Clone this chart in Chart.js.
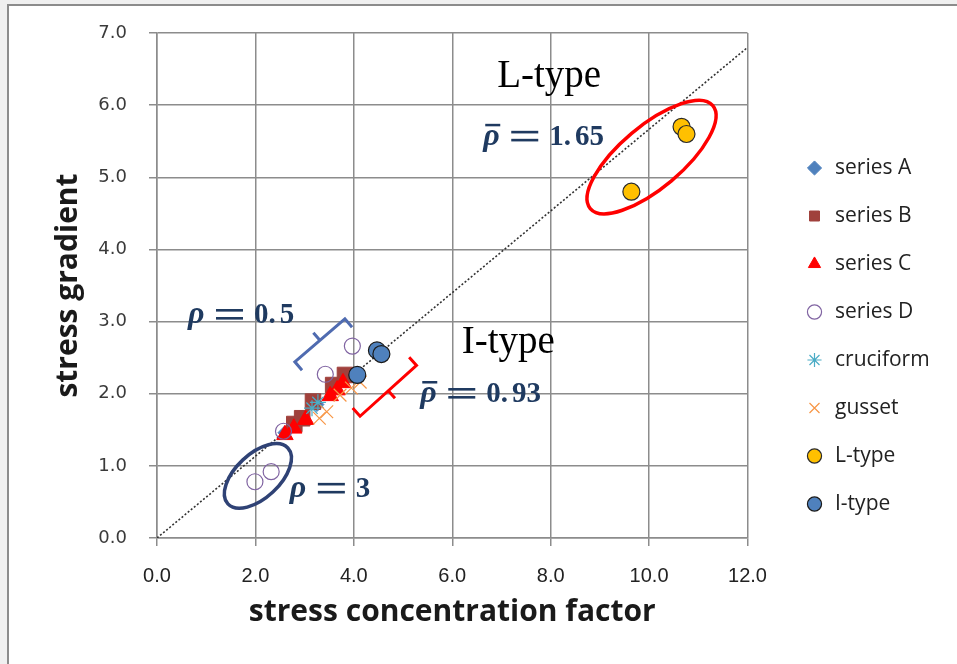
<!DOCTYPE html>
<html>
<head>
<meta charset="utf-8">
<script src="https://cdn.jsdelivr.net/npm/chart.js@4"></script>
<style>
  html, body { margin: 0; padding: 0; background: #f0f0f0; overflow: hidden; }
  #frame { position: absolute; left: 7px; top: 4px; right: 0; bottom: 0; background: #fff;
           border-top: 2px solid #8c8c8c; border-left: 2px solid #8c8c8c; }
  #wrap { position: absolute; left: 0; top: 0; width: 957px; height: 664px; }
</style>
</head>
<body>
<div id="frame"></div>
<div id="wrap"><canvas id="chart"></canvas></div>
<script>
// [stress concentration factor, stress gradient]
const seriesA = [[2.6, 1.46], [2.85, 1.6], [3.25, 1.85]];
const seriesB = [[2.79, 1.58], [2.95, 1.66], [3.17, 1.89], [3.58, 2.12], [3.82, 2.26]];
const seriesC = [[2.6, 1.43], [2.78, 1.52], [3.02, 1.64], [3.52, 1.97], [3.66, 2.05], [3.78, 2.15]];
const seriesD = [[1.99, 0.78], [2.32, 0.92], [2.57, 1.48], [3.42, 2.27], [3.97, 2.66]];
const cruciform = [[3.15, 1.8], [3.27, 1.88]];
const gusset = [[3.3, 1.66], [3.45, 1.75], [3.72, 1.98], [3.95, 2.08], [4.13, 2.16]];
const lType = [[9.64, 4.80], [10.66, 5.70], [10.76, 5.60]];
const iType = [[4.47, 2.60], [4.56, 2.55], [4.07, 2.26]];
const refLine = [[0, 0], [12, 6.8]];

const seriesNames = ['series A', 'series B', 'series C', 'series D', 'cruciform', 'gusset', 'L-type', 'I-type'];

// annotations, anchored in data units
const typeLabels = [
    { text: 'L-type', x: 7.97, y: 6.25 },
    { text: 'I-type', x: 7.14, y: 2.56 }
];
const rhoNotes = [
    { bar: true, whole: '1', frac: '65', x: 6.63, y: 5.45 },
    { bar: false, whole: '0', frac: '5', x: 0.63, y: 2.98 },
    { bar: true, whole: '0', frac: '93', x: 5.35, y: 1.885 },
    { bar: false, whole: '3', frac: null, x: 2.70, y: 0.57 }
];
const ellipses = [
    { x: 10.05, y: 5.28, rx: 80, ry: 31, angle: -40, color: '#ff0000' },
    { x: 2.05, y: 0.86, rx: 41, ry: 22, angle: -43, color: '#2f4275' }
];
const brackets = [
    { x: 3.31, y: 2.74, half: 33, angle: -40.7, side: 1, color: '#4f6bb0' },
    { x: 4.70, y: 2.04, half: 38, angle: -42, side: -1, color: '#ff0000' }
];

const NAVY = '#1f3a60';

function toPoints(arr) {
    return arr.map(p => ({ x: p[0], y: p[1] }));
}

const annotationPlugin = {
    id: 'annotations',
    afterDatasetsDraw(chart) {
        const ctx = chart.ctx;
        const xs = chart.scales.x;
        const ys = chart.scales.y;
        ctx.save();

        ellipses.forEach(e => {
            ctx.beginPath();
            ctx.ellipse(xs.getPixelForValue(e.x), ys.getPixelForValue(e.y), e.rx, e.ry,
                e.angle * Math.PI / 180, 0, Math.PI * 2);
            ctx.strokeStyle = e.color;
            ctx.lineWidth = 3.5;
            ctx.stroke();
        });

        brackets.forEach(b => {
            const cx = xs.getPixelForValue(b.x);
            const cy = ys.getPixelForValue(b.y);
            const a = b.angle * Math.PI / 180;
            const dx = Math.cos(a), dy = Math.sin(a);
            const nx = -dy * b.side, ny = dx * b.side;
            const c1 = [cx - dx * b.half, cy - dy * b.half];
            const c2 = [cx + dx * b.half, cy + dy * b.half];
            ctx.beginPath();
            ctx.moveTo(c1[0] + nx * 11, c1[1] + ny * 11);
            ctx.lineTo(c1[0], c1[1]);
            ctx.lineTo(c2[0], c2[1]);
            ctx.lineTo(c2[0] + nx * 11, c2[1] + ny * 11);
            ctx.moveTo(cx, cy);
            ctx.lineTo(cx - nx * 10, cy - ny * 10);
            ctx.strokeStyle = b.color;
            ctx.lineWidth = 3;
            ctx.lineJoin = 'miter';
            ctx.stroke();
        });

        ctx.fillStyle = '#000';
        ctx.font = '39px "Liberation Serif"';
        ctx.textAlign = 'center';
        ctx.textBaseline = 'alphabetic';
        typeLabels.forEach(t => {
            ctx.fillText(t.text, xs.getPixelForValue(t.x), ys.getPixelForValue(t.y));
        });

        ctx.textAlign = 'left';
        ctx.fillStyle = NAVY;
        rhoNotes.forEach(n => {
            const px = xs.getPixelForValue(n.x);
            const py = ys.getPixelForValue(n.y);
            ctx.font = 'italic bold 32px "Liberation Serif"';
            ctx.fillText('ρ', px, py);
            if (n.bar) {
                ctx.fillRect(px + 2, py - 21, 15, 2.5);
            }
            ctx.fillRect(px + 28, py - 14, 27, 2.6);
            ctx.fillRect(px + 28, py - 6, 27, 2.6);
            ctx.font = 'bold 29px "Liberation Serif"';
            let tx = px + 66;
            if (n.frac === null) {
                ctx.fillText(n.whole, tx, py);
            } else {
                ctx.fillText(n.whole + '.', tx, py);
                tx += ctx.measureText(n.whole + '.').width + 4;
                ctx.fillText(n.frac, tx, py);
            }
        });
        ctx.restore();
    }
};

const GRID = '#8c8c8c';

new Chart(document.getElementById('chart'), {
    type: 'scatter',
    data: {
        datasets: [
            { label: seriesNames[0], data: toPoints(seriesA), pointStyle: 'rectRot', pointRadius: 7,
              backgroundColor: '#4f81bd', borderColor: '#4f81bd', borderWidth: 1, order: 8 },
            { label: seriesNames[1], data: toPoints(seriesB), pointStyle: 'rect', pointRadius: 11,
              backgroundColor: '#a0413c', borderColor: '#a0413c', borderWidth: 1, order: 7 },
            { label: seriesNames[2], data: toPoints(seriesC), pointStyle: 'triangle', pointRadius: 9.5,
              backgroundColor: '#ff0000', borderColor: '#ff0000', borderWidth: 1, order: 6 },
            { label: seriesNames[3], data: toPoints(seriesD), pointStyle: 'circle', pointRadius: 8,
              backgroundColor: 'rgba(255,255,255,0)', borderColor: '#8064a2', borderWidth: 1.2, order: 5 },
            { label: seriesNames[4], data: toPoints(cruciform), pointStyle: 'star', pointRadius: 8,
              backgroundColor: '#4bacc6', borderColor: '#4bacc6', borderWidth: 1.2, order: 4 },
            { label: seriesNames[5], data: toPoints(gusset), pointStyle: 'crossRot', pointRadius: 9,
              backgroundColor: '#f79646', borderColor: '#f79646', borderWidth: 1.2, order: 3 },
            { label: seriesNames[6], data: toPoints(lType), pointStyle: 'circle', pointRadius: 8.5,
              backgroundColor: '#ffc000', borderColor: '#2a2a2a', borderWidth: 1.2, order: 2 },
            { label: seriesNames[7], data: toPoints(iType), pointStyle: 'circle', pointRadius: 8.5,
              backgroundColor: '#4f81bd', borderColor: '#1a1a1a', borderWidth: 1.2, order: 1 },
            { label: '', data: toPoints(refLine), showLine: true, pointRadius: 0,
              borderColor: '#333', borderWidth: 1.6, borderDash: [2, 2], order: 10 }
        ]
    },
    options: {
        responsive: true,
        maintainAspectRatio: false,
        animation: false,
        layout: {
            padding: { left: 0, right: 24, top: 33, bottom: 25 }
        },
        scales: {
            x: {
                type: 'linear',
                min: 0,
                max: 12,
                afterFit: s => { s.height = 101; },
                ticks: {
                    stepSize: 2,
                    padding: 18,
                    color: '#222',
                    font: { family: '"Liberation Sans Narrow", "Liberation Sans"', size: 20 },
                    callback: v => v.toFixed(1)
                },
                grid: { color: GRID, lineWidth: 1.5, tickLength: 8, tickColor: GRID },
                border: { color: GRID, width: 1.5 },
                title: {
                    display: true,
                    text: 'stress concentration factor',
                    color: '#1a1a1a',
                    padding: { top: 0, bottom: 9 },
                    font: { family: '"Open Sans"', size: 30, weight: 'bold' }
                }
            },
            y: {
                type: 'linear',
                min: 0,
                max: 7,
                afterFit: s => { s.width = 157; },
                ticks: {
                    stepSize: 1,
                    padding: 22,
                    color: '#3a3a3a',
                    font: { family: '"DejaVu Sans"', size: 18 },
                    callback: v => v.toFixed(1)
                },
                grid: { color: GRID, lineWidth: 1.5, tickLength: 8, tickColor: GRID },
                border: { color: GRID, width: 1.5 },
                title: {
                    display: true,
                    text: 'stress gradient',
                    color: '#1a1a1a',
                    padding: { top: 50, bottom: 0 },
                    font: { family: '"Open Sans"', size: 30, weight: 'bold' }
                }
            },
            yRight: {
                type: 'linear',
                position: 'right',
                min: 0,
                max: 7,
                display: true,
                afterFit: s => { s.width = 30; },
                ticks: { display: false },
                grid: { display: false },
                border: { display: false }
            }
        },
        plugins: {
            tooltip: { enabled: false },
            legend: {
                position: 'right',
                labels: {
                    usePointStyle: true,
                    boxWidth: 20,
                    boxHeight: 10,
                    padding: 27,
                    color: '#222',
                    font: { family: '"Open Sans"', size: 21 },
                    filter: item => item.text !== '',
                    sort: (a, b) => a.datasetIndex - b.datasetIndex
                }
            }
        }
    },
    plugins: [annotationPlugin]
});
</script>
</body>
</html>
